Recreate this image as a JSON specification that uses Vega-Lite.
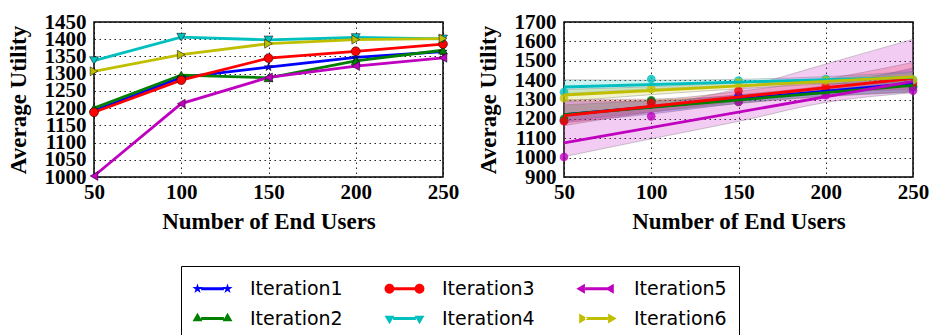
{
  "$schema": "https://vega.github.io/schema/vega-lite/v6.json",
  "padding": {"left": 6, "top": 10, "right": 5, "bottom": 0},
  "spacing": 16,
  "datasets": {
    "util": [
      {"n": 50, "series": "Iteration1", "utility": 1192},
      {"n": 100, "series": "Iteration1", "utility": 1289},
      {"n": 150, "series": "Iteration1", "utility": 1319},
      {"n": 200, "series": "Iteration1", "utility": 1347},
      {"n": 250, "series": "Iteration1", "utility": 1364},
      {"n": 50, "series": "Iteration2", "utility": 1200},
      {"n": 100, "series": "Iteration2", "utility": 1296},
      {"n": 150, "series": "Iteration2", "utility": 1288},
      {"n": 200, "series": "Iteration2", "utility": 1337},
      {"n": 250, "series": "Iteration2", "utility": 1368},
      {"n": 50, "series": "Iteration3", "utility": 1188},
      {"n": 100, "series": "Iteration3", "utility": 1281},
      {"n": 150, "series": "Iteration3", "utility": 1345},
      {"n": 200, "series": "Iteration3", "utility": 1365},
      {"n": 250, "series": "Iteration3", "utility": 1386},
      {"n": 50, "series": "Iteration4", "utility": 1338},
      {"n": 100, "series": "Iteration4", "utility": 1406},
      {"n": 150, "series": "Iteration4", "utility": 1398},
      {"n": 200, "series": "Iteration4", "utility": 1405},
      {"n": 250, "series": "Iteration4", "utility": 1401},
      {"n": 50, "series": "Iteration5", "utility": 1003},
      {"n": 100, "series": "Iteration5", "utility": 1213},
      {"n": 150, "series": "Iteration5", "utility": 1289},
      {"n": 200, "series": "Iteration5", "utility": 1322},
      {"n": 250, "series": "Iteration5", "utility": 1346},
      {"n": 50, "series": "Iteration6", "utility": 1307},
      {"n": 100, "series": "Iteration6", "utility": 1355},
      {"n": 150, "series": "Iteration6", "utility": 1387},
      {"n": 200, "series": "Iteration6", "utility": 1399},
      {"n": 250, "series": "Iteration6", "utility": 1402}
    ],
    "bands": [
      {"n": 50, "series": "Iteration1", "lo": 1180, "hi": 1290},
      {"n": 100, "series": "Iteration1", "lo": 1225, "hi": 1292},
      {"n": 150, "series": "Iteration1", "lo": 1280, "hi": 1325},
      {"n": 200, "series": "Iteration1", "lo": 1318, "hi": 1372},
      {"n": 250, "series": "Iteration1", "lo": 1340, "hi": 1462},
      {"n": 50, "series": "Iteration2", "lo": 1188, "hi": 1272},
      {"n": 100, "series": "Iteration2", "lo": 1235, "hi": 1295},
      {"n": 150, "series": "Iteration2", "lo": 1280, "hi": 1320},
      {"n": 200, "series": "Iteration2", "lo": 1315, "hi": 1360},
      {"n": 250, "series": "Iteration2", "lo": 1338, "hi": 1420},
      {"n": 50, "series": "Iteration3", "lo": 1165, "hi": 1300},
      {"n": 100, "series": "Iteration3", "lo": 1235, "hi": 1302},
      {"n": 150, "series": "Iteration3", "lo": 1290, "hi": 1342},
      {"n": 200, "series": "Iteration3", "lo": 1335, "hi": 1405},
      {"n": 250, "series": "Iteration3", "lo": 1350, "hi": 1492},
      {"n": 50, "series": "Iteration4", "lo": 1330, "hi": 1402},
      {"n": 100, "series": "Iteration4", "lo": 1355, "hi": 1400},
      {"n": 150, "series": "Iteration4", "lo": 1372, "hi": 1404},
      {"n": 200, "series": "Iteration4", "lo": 1383, "hi": 1418},
      {"n": 250, "series": "Iteration4", "lo": 1380, "hi": 1445},
      {"n": 50, "series": "Iteration5", "lo": 1005, "hi": 1212},
      {"n": 100, "series": "Iteration5", "lo": 1097, "hi": 1266},
      {"n": 150, "series": "Iteration5", "lo": 1187, "hi": 1356},
      {"n": 200, "series": "Iteration5", "lo": 1285, "hi": 1483},
      {"n": 250, "series": "Iteration5", "lo": 1335, "hi": 1611},
      {"n": 50, "series": "Iteration6", "lo": 1290, "hi": 1352},
      {"n": 100, "series": "Iteration6", "lo": 1325, "hi": 1366},
      {"n": 150, "series": "Iteration6", "lo": 1355, "hi": 1386},
      {"n": 200, "series": "Iteration6", "lo": 1380, "hi": 1406},
      {"n": 250, "series": "Iteration6", "lo": 1390, "hi": 1440}
    ]
  },
  "hconcat": [
    {
      "width": 349,
      "height": 155,
      "data": {"name": "util"},
      "encoding": {
        "x": {"field": "n", "type": "quantitative", "title": "Number of End Users",
              "scale": {"domain": [50, 250], "nice": false},
              "axis": {"values": [50, 100, 150, 200, 250]}},
        "y": {"field": "utility", "type": "quantitative", "title": "Average Utility",
              "scale": {"domain": [1000, 1450], "nice": false, "zero": false},
              "axis": {"values": [1000, 1050, 1100, 1150, 1200, 1250, 1300, 1350, 1400, 1450], "format": "d"}}
      },
      "layer": [
        {"mark": {"type": "line", "strokeWidth": 2.8},
         "encoding": {"stroke": {"field": "series", "type": "nominal", "legend": null,
                                 "scale": {"range": ["#0000ff", "#008000", "#ff0000", "#00bfbf", "#bf00bf", "#bfbf00"]}}}},
        {"transform": [{"filter": "datum.series == 'Iteration1'"}],
         "mark": {"type": "point", "filled": true, "opacity": 1, "size": 75, "stroke": "black", "strokeWidth": 0.5,
                  "shape": "M0,-1L0.225,-0.309L0.951,-0.309L0.363,0.118L0.588,0.809L0,0.382L-0.588,0.809L-0.363,0.118L-0.951,-0.309L-0.225,-0.309Z"},
         "encoding": {"fill": {"field": "series", "type": "nominal", "legend": null,
                               "scale": {"range": ["#0000ff", "#008000", "#ff0000", "#00bfbf", "#bf00bf", "#bfbf00"]}}}},
        {"transform": [{"filter": "datum.series == 'Iteration2'"}],
         "mark": {"type": "point", "filled": true, "opacity": 1, "size": 80, "stroke": "black", "strokeWidth": 0.5, "shape": "triangle-up"},
         "encoding": {"fill": {"field": "series", "type": "nominal", "legend": null}}},
        {"transform": [{"filter": "datum.series == 'Iteration3'"}],
         "mark": {"type": "point", "filled": true, "opacity": 1, "size": 80, "stroke": "black", "strokeWidth": 0.5, "shape": "circle"},
         "encoding": {"fill": {"field": "series", "type": "nominal", "legend": null}}},
        {"transform": [{"filter": "datum.series == 'Iteration4'"}],
         "mark": {"type": "point", "filled": true, "opacity": 1, "size": 80, "stroke": "black", "strokeWidth": 0.5, "shape": "triangle-down"},
         "encoding": {"fill": {"field": "series", "type": "nominal", "legend": null}}},
        {"transform": [{"filter": "datum.series == 'Iteration5'"}],
         "mark": {"type": "point", "filled": true, "opacity": 1, "size": 80, "stroke": "black", "strokeWidth": 0.5, "shape": "triangle-left"},
         "encoding": {"fill": {"field": "series", "type": "nominal", "legend": null}}},
        {"transform": [{"filter": "datum.series == 'Iteration6'"}],
         "mark": {"type": "point", "filled": true, "opacity": 1, "size": 80, "stroke": "black", "strokeWidth": 0.5, "shape": "triangle-right"},
         "encoding": {"fill": {"field": "series", "type": "nominal", "legend": null}}},
        {
          "mark": {"type": "point", "filled": true, "opacity": 0, "stroke": "black", "strokeWidth": 0.6},
          "encoding": {
            "color": {"field": "series", "type": "nominal", "title": null,
                      "scale": {"domain": ["Iteration1", "Iteration2", "Iteration3", "Iteration4", "Iteration5", "Iteration6"],
                                "range": ["#0000ff", "#008000", "#ff0000", "#00bfbf", "#bf00bf", "#bfbf00"]},
                      "legend": {"orient": "none", "legendX": 87, "legendY": 244}},
            "shape": {"field": "series", "type": "nominal", "title": null,
                      "legend": {"orient": "none", "legendX": 87, "legendY": 244},
                      "scale": {"domain": ["Iteration1", "Iteration2", "Iteration3", "Iteration4", "Iteration5", "Iteration6"],
                                "range": [
                                  "M-0.24,-0.152L2.04,-0.152L2.04,0.152L-0.24,0.152ZM-0.601,-0.532L-0.482,-0.164L-0.096,-0.164L-0.407,0.063L-0.289,0.43L-0.601,0.203L-0.913,0.43L-0.795,0.063L-1.106,-0.164L-0.72,-0.164ZM2.401,-0.532L2.52,-0.164L2.906,-0.164L2.595,0.063L2.713,0.43L2.401,0.203L2.089,0.43L2.207,0.063L1.896,-0.164L2.282,-0.164Z",
                                  "M-0.24,-0.152L2.04,-0.152L2.04,0.152L-0.24,0.152ZM-0.601,-0.57L-0.107,0.285L-1.095,0.285ZM2.401,-0.57L2.895,0.285L1.907,0.285Z",
                                  "M-0.145,-0.152L1.945,-0.152L1.945,0.152L-0.145,0.152ZM-1.095,0A0.494,0.494,0,1,1,-0.107,0A0.494,0.494,0,1,1,-1.095,0ZM1.907,0A0.494,0.494,0,1,1,2.895,0A0.494,0.494,0,1,1,1.907,0Z",
                                  "M-0.24,-0.152L2.04,-0.152L2.04,0.152L-0.24,0.152ZM-0.601,0.57L-1.095,-0.285L-0.107,-0.285ZM2.401,0.57L1.907,-0.285L2.895,-0.285Z",
                                  "M-0.24,-0.152L2.04,-0.152L2.04,0.152L-0.24,0.152ZM-1.114,0L-0.259,-0.494L-0.259,0.494ZM1.774,0L2.629,-0.494L2.629,0.494Z",
                                  "M-0.24,-0.152L2.04,-0.152L2.04,0.152L-0.24,0.152ZM0.026,0L-0.829,-0.494L-0.829,0.494ZM2.914,0L2.059,-0.494L2.059,0.494Z"
                                ]}}
          }
        }
      ]
    },
    {
      "width": 349,
      "height": 155,
      "encoding": {
        "x": {"field": "n", "type": "quantitative", "title": "Number of End Users",
              "scale": {"domain": [50, 250], "nice": false},
              "axis": {"values": [50, 100, 150, 200, 250]}}
      },
      "layer": [
        {
          "data": {"name": "bands"},
          "mark": {"type": "area", "fillOpacity": 0.2, "stroke": "#808080", "strokeOpacity": 0.4, "strokeWidth": 1, "interpolate": "monotone", "clip": true},
          "encoding": {
            "y": {"field": "lo", "type": "quantitative", "title": "Average Utility",
                  "scale": {"domain": [900, 1700], "nice": false, "zero": false},
                  "axis": {"values": [900, 1000, 1100, 1200, 1300, 1400, 1500, 1600, 1700], "format": "d"}},
            "y2": {"field": "hi"},
            "fill": {"field": "series", "type": "nominal", "legend": null}
          }
        },
        {
          "data": {"name": "util"},
          "mark": {"type": "circle", "size": 75, "opacity": 0.8},
          "encoding": {"y": {"field": "utility", "type": "quantitative", "title": "Average Utility",
                  "scale": {"domain": [900, 1700], "nice": false, "zero": false},
                  "axis": {"values": [900, 1000, 1100, 1200, 1300, 1400, 1500, 1600, 1700], "format": "d"}},
                  "fill": {"field": "series", "type": "nominal", "legend": null}}
        },
        {
          "data": {"name": "util"},
          "transform": [{"regression": "utility", "on": "n", "groupby": ["series"], "extent": [50, 250]}],
          "mark": {"type": "line", "strokeWidth": 2.8},
          "encoding": {"y": {"field": "utility", "type": "quantitative", "title": "Average Utility",
                  "scale": {"domain": [900, 1700], "nice": false, "zero": false},
                  "axis": {"values": [900, 1000, 1100, 1200, 1300, 1400, 1500, 1600, 1700], "format": "d"}},
                  "stroke": {"field": "series", "type": "nominal", "legend": null}}
        }
      ]
    }
  ],
  "config": {
    "view": {"stroke": "black", "strokeWidth": 1.5},
    "axis": {
      "labelFont": "Liberation Serif", "labelFontWeight": "bold", "labelFontSize": 21, "labelColor": "black",
      "titleFont": "Liberation Serif", "titleFontWeight": "bold", "titleFontSize": 23, "titleColor": "black",
      "domain": false, "ticks": false, "labelOverlap": false, "labelFlush": false, "labelBound": false,
      "gridColor": "black", "gridDash": [1.5, 3.5], "gridOpacity": 0.85, "gridWidth": 1
    },
    "axisX": {"labelPadding": 4, "titlePadding": 8},
    "axisY": {"labelPadding": 8, "titlePadding": 14},
    "legend": {
      "direction": "vertical", "columns": 3,
      "strokeColor": "black", "strokeWidth": 1, "padding": 12,
      "symbolSize": 400, "symbolStrokeColor": "black", "symbolStrokeWidth": 0.6, "symbolOpacity": 1,
      "labelFont": "DejaVu Sans", "labelFontSize": 19, "labelColor": "black", "labelOffset": 36,
      "columnPadding": 40, "rowPadding": 9
    }
  }
}
